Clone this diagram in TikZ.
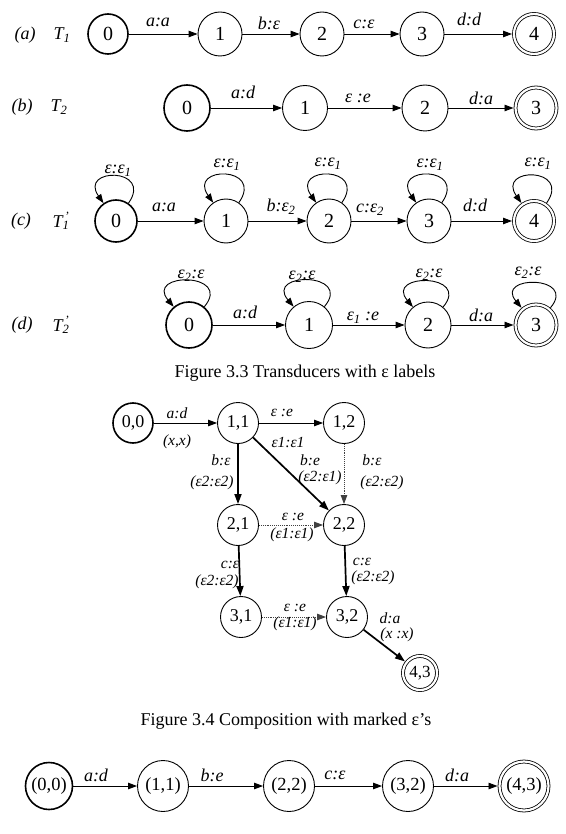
\documentclass[tikz,border=0pt]{standalone}
\usepackage{fontspec}
\setmainfont{Liberation Serif}
\usetikzlibrary{arrows.meta}
\newcommand\fsz[1]{\fontsize{#1}{#1}\selectfont}
\begin{document}
\begin{tikzpicture}[x=1pt,y=-1pt,
  st/.style={circle,draw,line width=0.9pt,inner sep=0pt,font=\fsz{20}},
  ini/.style={st,line width=1.6pt},
  fin/.style={st,double,double distance=2.2pt,line width=0.8pt,outer sep=2pt},
  arr/.style={line width=0.9pt,-{Triangle[length=9pt,width=6.5pt]}},
  thk/.style={arr,line width=1.7pt,-{Triangle[length=10pt,width=7pt]}},
  dotarr/.style={arr,densely dotted,black!75},
  lab/.style={font=\fsz{18}\itshape,inner sep=0pt,text=black},
  slab/.style={font=\fsz{15.5}\itshape,inner sep=0pt,text=black},
  rlab/.style={font=\fsz{18}\itshape,inner sep=0pt},
  captxt/.style={font=\fsz{18},inner sep=0pt},
  lpc/.style={arr,out=55,in=125,looseness=4.5},
  lpd/.style={arr,out=50,in=130,looseness=3.8}]
\useasboundingbox (0,0) rectangle (565,834);

% ---------- (a) T1
\node[rlab] (la) at (25,35) {(a)};
\node[rlab] (ta) at (62,35) {T\textsubscript{1}};
\node[ini,minimum size=40] (a0) at (108,34) {0};
\node[st,minimum size=44] (a1) at (220,34) {1};
\node[st,minimum size=44] (a2) at (322,34) {2};
\node[st,minimum size=44] (a3) at (422,34) {3};
\node[fin,minimum size=40] (a4) at (534,34) {4};
\draw[arr] (a0) -- (a1) node[lab] at (158,22) {a:a};
\draw[arr] (a1) -- (a2) node[lab] at (269,23) {b:ε};
\draw[arr] (a2) -- (a3) node[lab] at (364,24) {c:ε};
\draw[arr] (a3) -- (a4) node[lab] at (469,19) {d:d};

% ---------- (b) T2
\node[rlab] (lb) at (22,107) {(b)};
\node[rlab] (tb) at (59,107) {T\textsubscript{2}};
\node[ini,minimum size=46] (b0) at (187,108) {0};
\node[st,minimum size=45] (b1) at (305,108) {1};
\node[st,minimum size=46] (b2) at (425,108) {2};
\node[fin,minimum size=41] (b3) at (536,108) {3};
\draw[arr] (b0) -- (b1) node[lab] at (243,92) {a:d};
\draw[arr] (b1) -- (b2) node[lab] at (358,98) {ε :e};
\draw[arr] (b2) -- (b3) node[lab] at (481,98) {d:a};

% ---------- (c) T1'
\node[rlab] (lc) at (21,221) {(c)};
\node[rlab] (tc) at (61,221) {T\rlap{\textsubscript{1}}\textsuperscript{\,'}};
\node[ini,minimum size=42] (c0) at (116,221) {0};
\node[st,minimum size=44] (c1) at (226,221) {1};
\node[st,minimum size=44] (c2) at (329,221) {2};
\node[st,minimum size=44] (c3) at (429,221) {3};
\node[fin,minimum size=40] (c4) at (534,221) {4};
\draw[arr] (c0) -- (c1) node[lab] at (164,207) {a:a};
\draw[arr] (c1) -- (c2) node[lab] at (281,207) {b:ε\textsubscript{2}};
\draw[arr] (c2) -- (c3) node[lab] at (370,210) {c:ε\textsubscript{2}};
\draw[arr] (c3) -- (c4) node[lab] at (475,205) {d:d};
\draw[lpc] (c0) to (c0) node[lab] at (118,171) {ε:ε\textsubscript{1}};
\draw[lpc] (c1) to (c1) node[lab] at (227,165) {ε:ε\textsubscript{1}};
\draw[lpc] (c2) to (c2) node[lab] at (328,164) {ε:ε\textsubscript{1}};
\draw[lpc] (c3) to (c3) node[lab] at (430,165) {ε:ε\textsubscript{1}};
\draw[lpc] (c4) to (c4) node[lab] at (538,164) {ε:ε\textsubscript{1}};

% ---------- (d) T2'
\node[rlab] (ld) at (22,325) {(d)};
\node[rlab] (td) at (61,325) {T\rlap{\textsubscript{2}}\textsuperscript{\,'}};
\node[ini,minimum size=46] (d0) at (189,325) {0};
\node[st,minimum size=47] (d1) at (309,325) {1};
\node[st,minimum size=46] (d2) at (428,325) {2};
\node[fin,minimum size=41] (d3) at (536,325) {3};
\draw[arr] (d0) -- (d1) node[lab] at (245,312) {a:d};
\draw[arr] (d1) -- (d2) node[lab] at (363,318) {ε\textsubscript{1} :e};
\draw[arr] (d2) -- (d3) node[lab] at (481,315) {d:a};
\draw[lpd] (d0) to (d0) node[lab] at (191,276) {ε\textsubscript{2}:ε};
\draw[lpd] (d1) to (d1) node[lab] at (302,277) {ε\textsubscript{2}:ε};
\draw[lpd] (d2) to (d2) node[lab] at (429,275) {ε\textsubscript{2}:ε};
\draw[lpd] (d3) to (d3) node[lab] at (528,273) {ε\textsubscript{2}:ε};

\node[captxt] (cap1) at (305,373) {Figure 3.3 Transducers with ε labels};

% ---------- Figure 3.4
\node[ini,minimum size=40,font=\fsz{18}] (n00) at (133,423) {0,0};
\node[st,minimum size=41,font=\fsz{18}] (n11) at (238,423) {1,1};
\node[st,minimum size=41,font=\fsz{18}] (n12) at (344,423) {1,2};
\node[st,minimum size=41,font=\fsz{18}] (n21) at (238,525) {2,1};
\node[st,minimum size=41,font=\fsz{18}] (n22) at (344,525) {2,2};
\node[st,minimum size=41,font=\fsz{18}] (n31) at (241,617) {3,1};
\node[st,minimum size=41,font=\fsz{18}] (n32) at (347,617) {3,2};
\node[fin,minimum size=34,font=\fsz{17}] (n43) at (420,673) {4,3};

\draw[arr] (n00) -- (n11) node[slab] at (177,413) {a:d} node[slab] at (177,442) {(x,x)};
\draw[arr] (n11) -- (n12) node[slab] at (282,413) {ε :e} node[slab] at (288,442) {ε1:ε1};
\draw[thk] (n11) -- (n22) node[slab] at (310,460) {b:e} node[slab] at (320,478) {(ε2:ε1)};
\draw[thk] (n11) -- (n21) node[slab] at (221,460) {b:ε} node[slab] at (212,483) {(ε2:ε2)};
\draw[dotarr] (n12) -- (n22) node[slab] at (372,460) {b:ε} node[slab] at (382,483) {(ε2:ε2)};
\draw[dotarr] (n21) -- (n22) node[slab] at (293,517) {ε :e} node[slab] at (292,535) {(ε1:ε1)};
\draw[thk] (n21) -- (n31) node[slab] at (230,565) {c:ε} node[slab] at (217,582) {(ε2:ε2)};
\draw[thk] (n22) -- (n32) node[slab] at (362,562) {c:ε} node[slab] at (373,578) {(ε2:ε2)};
\draw[dotarr] (n31) -- (n32) node[slab] at (295,608) {ε :e} node[slab] at (295,624) {(ε1:ε1)};
\draw[thk] (n32) -- (n43) node[slab] at (390,618) {d:a} node[slab] at (397,635) {(x :x)};

\node[captxt] (cap2) at (286,721) {Figure 3.4 Composition with marked ε’s};

% ---------- bottom row
\node[ini,minimum size=47,font=\fsz{18.5}] (m0) at (49,786) {(0,0)};
\node[st,minimum size=51,font=\fsz{18.5}] (m1) at (163,786) {(1,1)};
\node[st,minimum size=51,font=\fsz{18.5}] (m2) at (289,786) {(2,2)};
\node[st,minimum size=51,font=\fsz{18.5}] (m3) at (408,786) {(3,2)};
\node[fin,minimum size=49,font=\fsz{18.5}] (m4) at (524,786) {(4,3)};
\draw[arr] (m0) -- (m1) node[lab] at (96,775) {a:d};
\draw[arr] (m1) -- (m2) node[lab] at (212,775) {b:e};
\draw[arr] (m2) -- (m3) node[lab] at (335,775) {c:ε};
\draw[arr] (m3) -- (m4) node[lab] at (457,775) {d:a};
\end{tikzpicture}
\end{document}
